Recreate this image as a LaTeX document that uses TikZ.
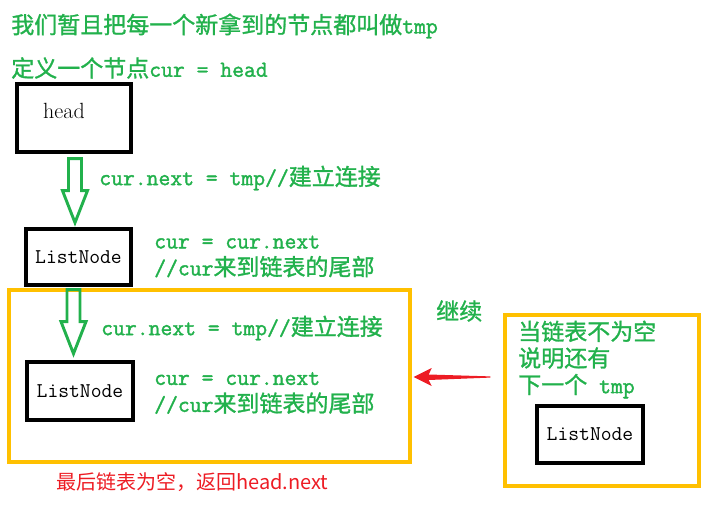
\documentclass[tikz,border=0pt]{standalone}
\usepackage{fontspec}
\newfontfamily\cjk{Noto Sans CJK SC}
\newfontfamily\gcjk{Noto Sans CJK SC}[FakeBold=1.2]
\newfontfamily\gmono{Latin Modern Mono}[FakeBold=1.6]
\usepackage{xcolor}
\usetikzlibrary{calc}
\definecolor{mygreen}{RGB}{34,177,76}
\definecolor{myyellow}{RGB}{255,192,0}
\definecolor{myred}{RGB}{237,28,36}

\tikzset{
  blackbox/.style={draw=black, line width=2.5pt, inner sep=0pt},
  yellowbox/.style={draw=myyellow, line width=2.6pt, inner sep=0pt},
  gtext/.style={text=mygreen, anchor=west, inner sep=0pt, align=left,
    font=\gmono\fontsize{17.25pt}{20.25pt}\selectfont},
  boxtext/.style={font=\ttfamily\fontsize{15.75pt}{18pt}\selectfont},
  hollowarrow/.pic={
    \draw[mygreen, line width=2.2pt, line join=miter]
      (-6.5,0) -- (-6.5,32) -- (-12.5,32) -- (0,64) -- (12.5,32) -- (6.5,32) -- (6.5,0) -- cycle;
  }
}

\begin{document}
\begin{tikzpicture}[x=0.75pt, y=-0.75pt]
\useasboundingbox (0,0) rectangle (714,506);

% text on top
\node[gtext] (title1) at (11,26) {{\gcjk 我们暂且把每一个新拿到的节点都叫做}tmp};
\node[gtext] (title2) at (11,68) {{\gcjk 定义一个节点}cur = head};

% head and first ListNode
\node[blackbox, minimum width=85.5pt, minimum height=51pt] (head) at (74,118) {};
\node[font=\fontsize{16.5pt}{18pt}\selectfont, inner sep=0pt] (headtxt) at ($(head.center)+(-10,-7)$) {head};
\node[blackbox, boxtext, minimum width=78.75pt, minimum height=42pt] (list1) at (78.5,257) {ListNode};

\pic at ($(head.south)+(1,5)$) {hollowarrow};
\node[gtext] (step1) at (99,178) {cur.next = tmp//{\gcjk 建立连接}};
\node[gtext] (move1) at (154,256.5) {cur = cur.next\\//cur{\gcjk 来到链表的尾部}};

% the loop
\node[yellowbox, minimum width=300.75pt, minimum height=129pt] (loop) at (209.5,376) {};
\pic at ($(list1.south)+(-5,3)$) {hollowarrow};
\node[gtext] (step2) at (101,328) {cur.next = tmp//{\gcjk 建立连接}};
\node[blackbox, boxtext, minimum width=79.5pt, minimum height=43.5pt] (list2) at (80,391) {ListNode};
\node[gtext] (move2) at (154,393) {cur = cur.next\\//cur{\gcjk 来到链表的尾部}};

\node[text=myred, anchor=west, inner sep=0pt, font=\cjk\fontsize{15pt}{18pt}\selectfont] (result) at (56,482) {最后链表为空，返回head.next};

% next tmp
\node[gtext] (goon) at (436,311) {{\gcjk 继续}};
\node[yellowbox, minimum width=145.5pt, minimum height=128.25pt] (nextbox) at (602,400.5) {};
\node[gtext, font=\gmono\fontsize{17.25pt}{19.9pt}\selectfont] (reason) at (518,359.5) {{\gcjk 当链表不为空}\\{\gcjk 说明还有}\\{\gcjk 下一个} tmp};
\node[blackbox, boxtext, minimum width=79.5pt, minimum height=42.75pt] (list3) at (590,434.5) {ListNode};

\coordinate (redtip) at ($(loop.east)+(2,1)$);
\coordinate (redtail) at ($(nextbox.west)+(-13,-23.5)$);
\fill[myred] (redtip) -- ++(18,-9) -- ++(-3,6.5) -- ($(redtail)+(0,-0.6)$) -- ($(redtail)+(0,0.6)$) -- ($(redtip)+(15,3)$) -- ($(redtip)+(18,9)$) -- cycle;

\end{tikzpicture}
\end{document}
